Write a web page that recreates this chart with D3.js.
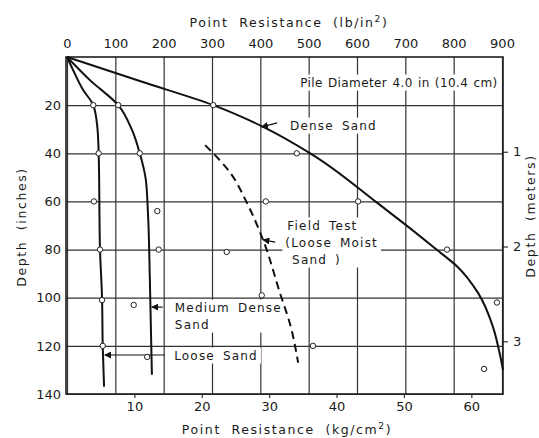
<!DOCTYPE html>
<html>
<head>
<meta charset="utf-8">
<script src="https://cdn.jsdelivr.net/npm/d3@7"></script>
<style>
  body { margin: 0; background: #fff; }
  svg text { font-family: "DejaVu Sans", sans-serif; fill: #1a1a1a; }
  .tick text { font-size: 13px; }
  .lbl { font-size: 12px; letter-spacing: 1.2px; word-spacing: 3px; }
  .lbl.tight { letter-spacing: 0.4px; word-spacing: 1px; }
  .title { font-size: 12.5px; letter-spacing: 1.6px; word-spacing: 5px; }
</style>
</head>
<body>
<div id="chart"></div>
<script>
// ---------- DATA ----------
// curves as [kg/cm2, depth in inches]
const looseSand = [[0, 0], [0.9, 5.4], [2.4, 13.7], [3.9, 20], [4.5, 29], [4.7, 40], [4.9, 80], [5.2, 100], [5.3, 120], [5.5, 137]];
const mediumSand = [[0, 0], [3.4, 9.6], [7.6, 20], [9.6, 30], [10.8, 40], [11.7, 51], [12.0, 64], [12.3, 93], [12.6, 132]];
const denseSand = [[0, 0], [10.8, 10], [21.7, 20], [29.1, 29], [36.1, 40], [46.1, 60.7], [55.3, 81], [57.9, 87], [61.0, 98], [63.2, 112], [64.2, 123], [64.7, 130]];
const fieldTest = [[20.5, 36.6], [24.2, 48], [26.7, 60.6], [29.1, 76], [31.6, 98], [33.2, 112], [34.3, 127]];

// measured test points
const testPoints = [
	[3.9, 20], [4.7, 40], [4.0, 60], [4.9, 80], [5.2, 101], [5.3, 120],
	[7.6, 20], [10.8, 40], [13.4, 64], [13.6, 80], [9.9, 103], [11.9, 124.6],
	[21.7, 20], [34.1, 40], [29.5, 60], [43.2, 60], [23.7, 81], [28.9, 99],
	[36.5, 120], [56.4, 80], [63.8, 102], [61.9, 129.6],
];

const lbTicks = [0, 100, 200, 300, 400, 500, 600, 700, 800, 900];
const kgTicks = [10, 20, 30, 40, 50, 60];
const depthTicks = [20, 40, 60, 80, 100, 120, 140];
const meterTicks = [1, 2, 3];

// annotations: [kg, depth] of text start, lines of text
const notes = [
	{ at: [34.6, 10.4], lines: ["Pile Diameter 4.0 in (10.4 cm)"], cls: "tight" },
	{ at: [33.1, 28.3], lines: ["Dense Sand"] },
	{ at: [32.4, 69.8], lines: ["Field Test", "(Loose Moist", "Sand )"], indent: [0.3, 0, 1] },
	{ at: [16.0, 103.9], lines: ["Medium Dense", "Sand"] },
	{ at: [15.9, 123.8], lines: ["Loose Sand"] },
];
// arrows: from [kg, depth] to [kg, depth]
const arrows = [
	[[31.2, 27.4], [28.9, 29]],
	[[30.9, 76.9], [29.1, 76]],
	[[14.2, 103.9], [12.6, 103.9]],
	[[14.5, 123.8], [5.6, 123.8]],
];

// ---------- LAYOUT ----------
const width = 539;
const height = 438;
const plot = { left: 66, right: 503, top: 57, bottom: 394 };

const svg = d3
	.select("#chart")
	.append("svg")
	.attr("width", width)
	.attr("height", height);

const xLb = d3.scaleLinear().domain([0, 900]).range([67, 502]);
const xKg = d3.scaleLinear().domain([0, 65]).range([67, 505]);
const y = d3.scaleLinear().domain([0, 140]).range([plot.top, plot.bottom]);
const yM = d3.scaleLinear().domain([0, 140 * 0.0254]).range([plot.top, plot.bottom]);

const ink = "#1f1f1f";

// grid + axes
const topAxis = svg
	.append("g")
	.attr("transform", `translate(0,${plot.top})`)
	.call(d3.axisTop(xLb).tickValues(lbTicks).tickSize(-(plot.bottom - plot.top)).tickPadding(9));
const leftAxis = svg
	.append("g")
	.attr("transform", `translate(${plot.left},0)`)
	.call(d3.axisLeft(y).tickValues(depthTicks).tickSize(-(plot.right - plot.left)).tickPadding(5));
const bottomAxis = svg
	.append("g")
	.attr("transform", `translate(0,${plot.bottom})`)
	.call(d3.axisBottom(xKg).tickValues(kgTicks).tickSize(4).tickPadding(4));
const rightAxis = svg
	.append("g")
	.attr("transform", `translate(${plot.right},0)`)
	.call(d3.axisRight(yM).tickValues(meterTicks).tickFormat(d3.format("d")).tickSize(5).tickPadding(5));

[topAxis, leftAxis, bottomAxis, rightAxis].forEach((g) => {
	g.select(".domain").remove();
	g.selectAll(".tick line").attr("stroke", "#333").attr("stroke-width", 1.2);
	g.selectAll(".tick text").attr("fill", ink);
});

// frame
svg.append("rect")
	.attr("x", plot.left).attr("y", plot.top)
	.attr("width", plot.right - plot.left).attr("height", plot.bottom - plot.top)
	.attr("fill", "none").attr("stroke", ink).attr("stroke-width", 1.6);

// annotation text with white boxes that cut the grid
const noteG = svg.append("g");
notes.forEach((n) => {
	const g = noteG.append("g");
	const t = g.append("text").attr("class", "lbl" + (n.cls ? " " + n.cls : ""));
	n.lines.forEach((line, i) => {
		t.append("tspan")
			.attr("x", xKg(n.at[0] + (n.indent ? n.indent[i] : 0)))
			.attr("y", y(n.at[1]) + 4.5 + i * 17)
			.text(line);
	});
	const bb = t.node().getBBox();
	g.insert("rect", "text")
		.attr("x", bb.x - 3).attr("y", bb.y - 1)
		.attr("width", bb.width + 6).attr("height", bb.height + 2)
		.attr("fill", "#fff");
});

// curves
const line = d3.line()
	.x((d) => xKg(d[0]))
	.y((d) => y(d[1]))
	.curve(d3.curveMonotoneY);

[looseSand, mediumSand, denseSand].forEach((c) => {
	svg.append("path")
		.attr("d", line(c))
		.attr("fill", "none")
		.attr("stroke", "#111")
		.attr("stroke-width", 2);
});

svg.append("path")
	.attr("d", line(fieldTest))
	.attr("fill", "none")
	.attr("stroke", "#111")
	.attr("stroke-width", 2)
	.attr("stroke-dasharray", "8,5");

// arrows
svg.append("defs")
	.append("marker")
	.attr("id", "head")
	.attr("viewBox", "0 0 10 10")
	.attr("refX", 9).attr("refY", 5)
	.attr("markerWidth", 7).attr("markerHeight", 7)
	.attr("markerUnits", "userSpaceOnUse")
	.attr("orient", "auto")
	.append("path")
	.attr("d", "M0,0 L10,5 L0,10 Z")
	.attr("fill", "#111");

svg.append("g")
	.selectAll("line")
	.data(arrows)
	.enter()
	.append("line")
	.attr("x1", (d) => xKg(d[0][0]))
	.attr("y1", (d) => y(d[0][1]))
	.attr("x2", (d) => xKg(d[1][0]))
	.attr("y2", (d) => y(d[1][1]))
	.attr("stroke", "#111")
	.attr("stroke-width", 1.2)
	.attr("marker-end", "url(#head)");

// test points
svg.append("g")
	.selectAll("circle")
	.data(testPoints)
	.enter()
	.append("circle")
	.attr("cx", (d) => xKg(d[0]))
	.attr("cy", (d) => y(d[1]))
	.attr("r", 2.7)
	.attr("fill", "#fff")
	.attr("stroke", "#222")
	.attr("stroke-width", 1);

// axis titles
const topTitle = svg.append("text")
	.attr("class", "title")
	.attr("x", 289).attr("y", 27)
	.attr("text-anchor", "middle");
topTitle.append("tspan").text("Point Resistance (lb/in");
topTitle.append("tspan").attr("dy", -5).attr("font-size", "9px").text("2");
topTitle.append("tspan").attr("dy", 5).text(")");

const botTitle = svg.append("text")
	.attr("class", "title")
	.attr("x", 287).attr("y", 434)
	.attr("text-anchor", "middle");
botTitle.append("tspan").text("Point Resistance (kg/cm");
botTitle.append("tspan").attr("dy", -5).attr("font-size", "9px").text("2");
botTitle.append("tspan").attr("dy", 5).text(")");

svg.append("text")
	.attr("class", "title")
	.attr("transform", "translate(26,227) rotate(-90)")
	.attr("text-anchor", "middle")
	.text("Depth (inches)");

svg.append("text")
	.attr("class", "title")
	.attr("transform", "translate(535,216) rotate(-90)")
	.attr("text-anchor", "middle")
	.text("Depth (meters)");
</script>
</body>
</html>
